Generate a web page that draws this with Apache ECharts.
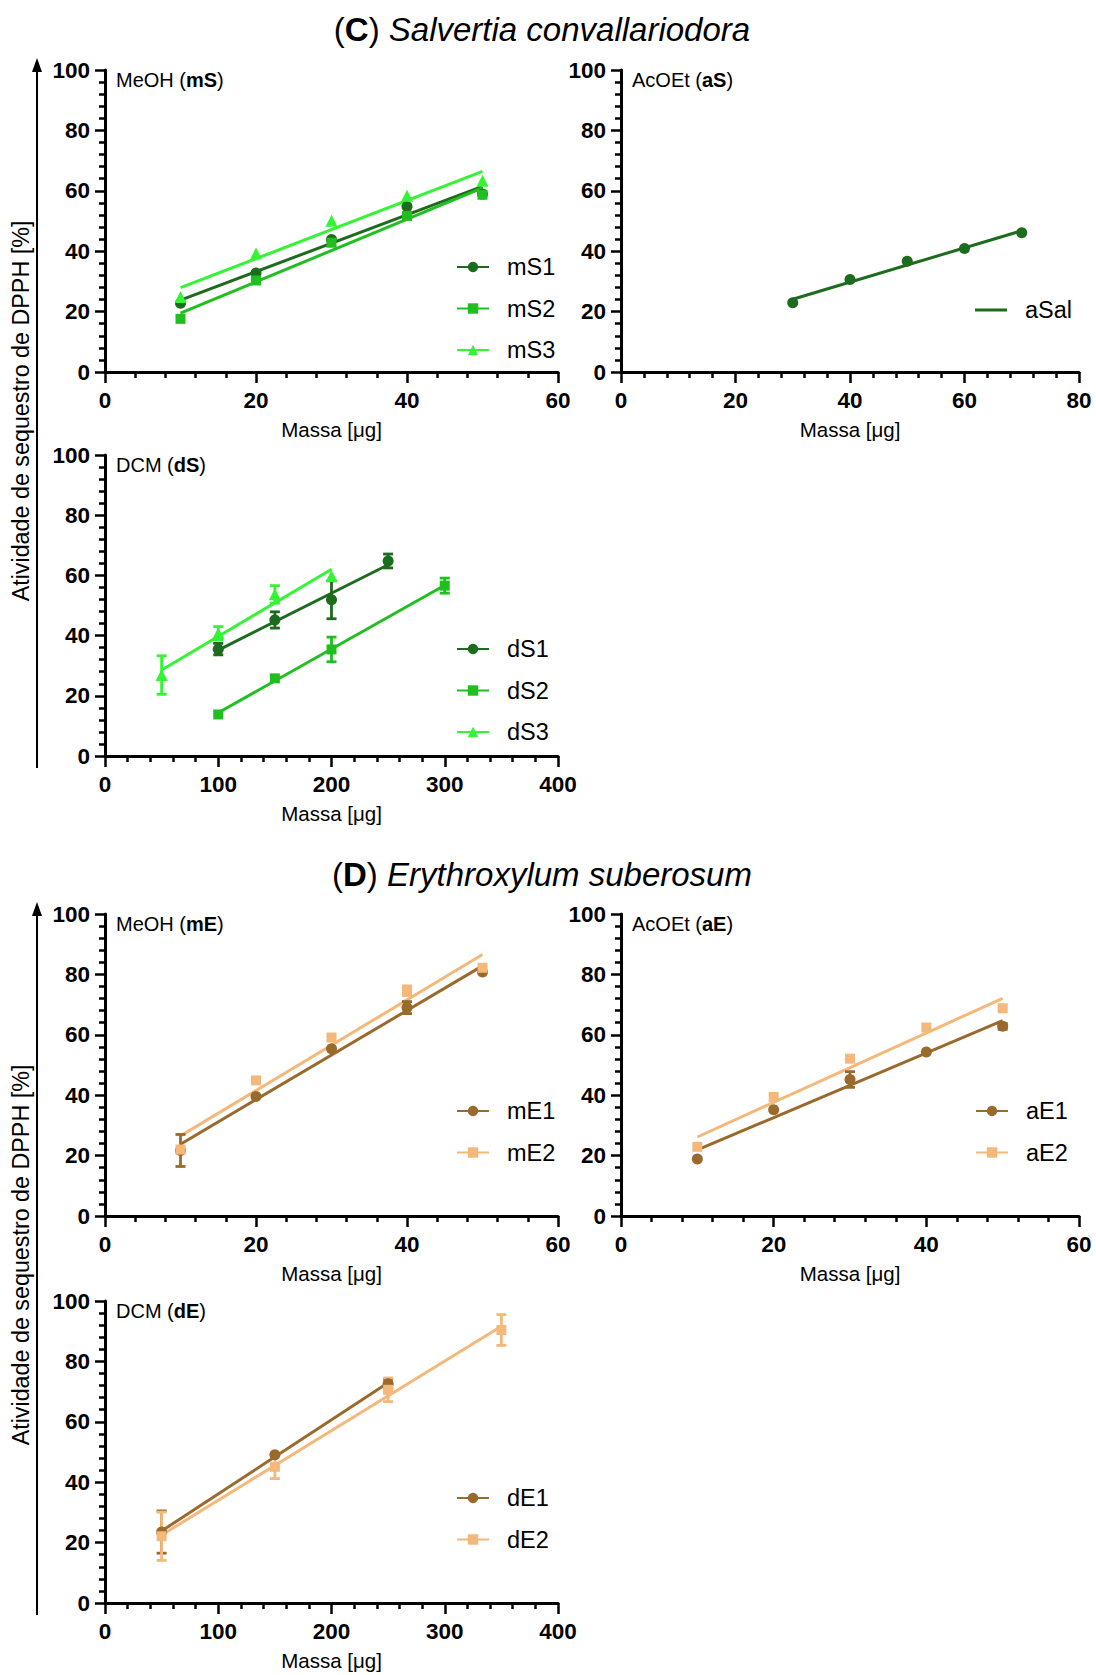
<!DOCTYPE html>
<html>
<head>
<meta charset="utf-8">
<title>Atividade de sequestro de DPPH</title>
<script src="https://cdn.jsdelivr.net/npm/echarts/dist/echarts.min.js"></script>
<style>
  html, body { margin: 0; padding: 0; background: #ffffff; }
  #chart { width: 1096px; height: 1675px; }
</style>
</head>
<body>
<div id="chart"></div>
<script>
// ---------------- data (mass in µg, activity in %) ----------------
// (C) Salvertia convallariodora
const massMeOH_S = [10, 20, 30, 40, 50];
const mS1 = [22.8, 32.8, 43.9, 54.8, 58.9];
const mS2 = [17.6, 30.3, 42.8, 51.7, 58.7];
const mS3 = [24.8, 39.2, 50.1, 58.4, 63.3];

const massAcOEt_S = [30, 40, 50, 60, 70];
const aSal = [22.9, 30.6, 36.7, 40.9, 46.1];

const massDS1 = [100, 150, 200, 250];
const dS1 = [35.5, 45.2, 51.9, 64.8];
const dS1Err = [1.9, 2.7, 6.3, 2.3];
const massDS2 = [100, 150, 200, 300];
const dS2 = [13.8, 25.8, 35.4, 56.6];
const dS2Err = [0, 0, 4.1, 2.5];
const massDS3 = [50, 100, 150, 200];
const dS3 = [26.9, 40.8, 53.7, 59.8];
const dS3Err = [6.4, 2.2, 2.9, 0];

// (D) Erythroxylum suberosum
const massMeOH_E = [10, 20, 30, 40, 50];
const mE1 = [21.7, 39.6, 55.4, 69.0, 80.8];
const mE1Err = [5.3, 0, 0, 2.0, 0];
const mE2 = [22.0, 44.9, 59.1, 74.6, 82.2];
const mE2Err = [0, 0, 0, 1.6, 0];

const massAcOEt_E = [10, 20, 30, 40, 50];
const aE1 = [18.9, 35.2, 45.2, 54.3, 62.8];
const aE1Err = [0, 0, 2.6, 0, 1.0];
const aE2 = [22.9, 39.4, 52.1, 62.4, 68.8];
const aE2Err = [0, 0, 0, 0, 0];

const massDE1 = [50, 150, 250];
const dE1 = [23.5, 49.1, 72.6];
const dE1Err = [7.0, 0, 1.5];
const massDE2 = [50, 150, 250, 350];
const dE2 = [22.1, 45.1, 70.6, 90.4];
const dE2Err = [8.0, 3.9, 3.9, 5.1];

// axis scales
const yMin = 0, yMax = 100, yStep = 20;
const xMaxMeOH = 60, xStepMeOH = 20;
const xMaxAcOEtS = 80, xStepAcOEtS = 20;
const xMaxAcOEtE = 60, xStepAcOEtE = 20;
const xMaxDCM = 400, xStepDCM = 100;

// ---------------- styling ----------------
const FONT = "'Liberation Sans', Arial, Helvetica, sans-serif";
const DARK_GREEN = '#1d6b1d';
const MID_GREEN = '#1fbf1f';
const LIGHT_GREEN = '#33f533';
const BROWN = '#9a6a2c';
const PEACH = '#f4b87a';

const SYMBOL_SIZE = { circle: 11, rect: 10, triangle: 12 };

// least-squares straight line over the measured mass range
function linearFit(xs, ys) {
  const n = xs.length;
  const mx = xs.reduce((a, b) => a + b, 0) / n;
  const my = ys.reduce((a, b) => a + b, 0) / n;
  let sxy = 0, sxx = 0;
  for (let i = 0; i < n; i++) {
    sxy += (xs[i] - mx) * (ys[i] - my);
    sxx += (xs[i] - mx) * (xs[i] - mx);
  }
  const slope = sxy / sxx;
  const icpt = my - slope * mx;
  const x0 = Math.min(...xs), x1 = Math.max(...xs);
  return [[x0, icpt + slope * x0], [x1, icpt + slope * x1]];
}

// vertical error bar with caps
function renderErrorBar(params, api) {
  const x = api.value(0), y = api.value(1), e = api.value(2);
  if (!e) return null;
  const hi = api.coord([x, y + e]);
  const lo = api.coord([x, y - e]);
  const half = 5;
  const style = { stroke: api.visual('color'), lineWidth: 2.8 };
  return {
    type: 'group',
    children: [
      { type: 'line', shape: { x1: hi[0], y1: hi[1], x2: lo[0], y2: lo[1] }, style: style },
      { type: 'line', shape: { x1: hi[0] - half, y1: hi[1], x2: hi[0] + half, y2: hi[1] }, style: style },
      { type: 'line', shape: { x1: lo[0] - half, y1: lo[1], x2: lo[0] + half, y2: lo[1] }, style: style }
    ]
  };
}

// ---------------- panel layout ----------------
const LEFT_COL = 105, RIGHT_COL = 621;
const panels = [
  { grid: { left: LEFT_COL, top: 70, width: 453, height: 302 }, xMax: xMaxMeOH, xStep: xStepMeOH,
    tag: ['MeOH (', 'mS', ')'], legend: { left: 456, top: 255 },
    curves: [
      { name: 'mS1', x: massMeOH_S, y: mS1, color: DARK_GREEN, symbol: 'circle' },
      { name: 'mS2', x: massMeOH_S, y: mS2, color: MID_GREEN, symbol: 'rect' },
      { name: 'mS3', x: massMeOH_S, y: mS3, color: LIGHT_GREEN, symbol: 'triangle' }
    ] },
  { grid: { left: RIGHT_COL, top: 70, width: 458, height: 302 }, xMax: xMaxAcOEtS, xStep: xStepAcOEtS,
    tag: ['AcOEt (', 'aS', ')'], legend: { left: 975, top: 298 }, lineOnlyLegend: true,
    curves: [
      { name: 'aSal', x: massAcOEt_S, y: aSal, color: DARK_GREEN, symbol: 'circle' }
    ] },
  { grid: { left: LEFT_COL, top: 455, width: 453, height: 301 }, xMax: xMaxDCM, xStep: xStepDCM,
    tag: ['DCM (', 'dS', ')'], legend: { left: 456, top: 637 },
    curves: [
      { name: 'dS1', x: massDS1, y: dS1, err: dS1Err, color: DARK_GREEN, symbol: 'circle' },
      { name: 'dS2', x: massDS2, y: dS2, err: dS2Err, color: MID_GREEN, symbol: 'rect' },
      { name: 'dS3', x: massDS3, y: dS3, err: dS3Err, color: LIGHT_GREEN, symbol: 'triangle' }
    ] },
  { grid: { left: LEFT_COL, top: 914, width: 453, height: 302 }, xMax: xMaxMeOH, xStep: xStepMeOH,
    tag: ['MeOH (', 'mE', ')'], legend: { left: 456, top: 1099 },
    curves: [
      { name: 'mE1', x: massMeOH_E, y: mE1, err: mE1Err, color: BROWN, symbol: 'circle' },
      { name: 'mE2', x: massMeOH_E, y: mE2, err: mE2Err, color: PEACH, symbol: 'rect' }
    ] },
  { grid: { left: RIGHT_COL, top: 914, width: 458, height: 302 }, xMax: xMaxAcOEtE, xStep: xStepAcOEtE,
    tag: ['AcOEt (', 'aE', ')'], legend: { left: 975, top: 1099 },
    curves: [
      { name: 'aE1', x: massAcOEt_E, y: aE1, err: aE1Err, color: BROWN, symbol: 'circle' },
      { name: 'aE2', x: massAcOEt_E, y: aE2, err: aE2Err, color: PEACH, symbol: 'rect' }
    ] },
  { grid: { left: LEFT_COL, top: 1301, width: 453, height: 302 }, xMax: xMaxDCM, xStep: xStepDCM,
    tag: ['DCM (', 'dE', ')'], legend: { left: 456, top: 1486 },
    curves: [
      { name: 'dE1', x: massDE1, y: dE1, err: dE1Err, color: BROWN, symbol: 'circle' },
      { name: 'dE2', x: massDE2, y: dE2, err: dE2Err, color: PEACH, symbol: 'rect' }
    ] }
];

// ---------------- build option ----------------
const grids = [], xAxes = [], yAxes = [], series = [], legends = [], graphics = [];

const axisLineStyle = { color: '#000', width: 3 };
const tickStyle = { color: '#000', width: 2.5 };
const tickLabel = { fontFamily: FONT, fontSize: 22.5, fontWeight: 'bold', color: '#000' };

panels.forEach((p, gi) => {
  grids.push(Object.assign({ containLabel: false, outerBoundsMode: 'none' }, p.grid));

  xAxes.push({
    gridIndex: gi, type: 'value', min: 0, max: p.xMax, interval: p.xStep,
    axisLine: { show: true, onZero: false, lineStyle: axisLineStyle },
    axisTick: { show: true, length: 11, lineStyle: tickStyle },
    minorTick: { show: true, splitNumber: 5, length: 6, lineStyle: tickStyle },
    splitLine: { show: false }, minorSplitLine: { show: false },
    axisLabel: Object.assign({ show: true, showMinLabel: true, showMaxLabel: true, margin: 17 }, tickLabel),
    name: 'Massa [μg]', nameLocation: 'middle', nameGap: 47,
    nameTextStyle: { fontFamily: FONT, fontSize: 20.5, color: '#000' }
  });

  yAxes.push({
    gridIndex: gi, type: 'value', min: yMin, max: yMax, interval: yStep,
    axisLine: { show: true, onZero: false, lineStyle: axisLineStyle },
    axisTick: { show: true, length: 10, lineStyle: tickStyle },
    minorTick: { show: true, splitNumber: 5, length: 6, lineStyle: tickStyle },
    splitLine: { show: false }, minorSplitLine: { show: false },
    axisLabel: Object.assign({ show: true, showMinLabel: true, showMaxLabel: true, margin: 15 }, tickLabel)
  });

  p.curves.forEach((c) => {
    // fitted line (also carries the legend entry)
    series.push({
      name: c.name, type: 'line', xAxisIndex: gi, yAxisIndex: gi,
      data: linearFit(c.x, c.y),
      symbol: c.symbol, showSymbol: false, symbolSize: SYMBOL_SIZE[c.symbol],
      lineStyle: { color: c.color, width: 3 },
      itemStyle: { color: c.color },
      silent: true, z: 2, animation: false
    });
    // error bars
    if (c.err) {
      series.push({
        name: c.name + ' dp', type: 'custom', xAxisIndex: gi, yAxisIndex: gi,
        coordinateSystem: 'cartesian2d',
        data: c.x.map((v, i) => [v, c.y[i], c.err[i]]),
        encode: { x: 0, y: 1 },
        renderItem: renderErrorBar,
        itemStyle: { color: c.color },
        silent: true, z: 3, animation: false
      });
    }
    // measured points
    series.push({
      name: c.name + ' pts', type: 'scatter', xAxisIndex: gi, yAxisIndex: gi,
      data: c.x.map((v, i) => [v, c.y[i]]),
      symbol: c.symbol, symbolSize: SYMBOL_SIZE[c.symbol],
      itemStyle: { color: c.color, opacity: 1 },
      silent: true, z: 4, animation: false
    });
  });

  legends.push({
    orient: 'vertical', left: p.legend.left, top: p.legend.top, padding: 0,
    itemWidth: 32, itemHeight: p.lineOnlyLegend ? 3 : 13, itemGap: 17.5,
    selectedMode: false,
    textStyle: { fontFamily: FONT, fontSize: 23.5, color: '#000', lineHeight: 23, padding: [0, 0, 0, 13] },
    data: p.curves.map((c) => p.lineOnlyLegend ? { name: c.name, icon: 'rect' } : c.name)
  });

  // panel caption in the upper-left corner
  graphics.push({
    type: 'text', x: p.grid.left + 11, y: p.grid.top + 10, z: 10,
    style: {
      text: '{n|' + p.tag[0] + '}{b|' + p.tag[1] + '}{n|' + p.tag[2] + '}',
      align: 'left', textAlign: 'left', verticalAlign: 'middle', textVerticalAlign: 'middle',
      rich: {
        n: { fontFamily: FONT, fontSize: 20, fill: '#000', color: '#000' },
        b: { fontFamily: FONT, fontSize: 20, fontWeight: 'bold', fill: '#000', color: '#000' }
      }
    }
  });
});

// section titles
function sectionTitle(letter, species, y) {
  return {
    type: 'text', x: 542, y: y, z: 10,
    style: {
      text: '{p|(}{b|' + letter + '}{p|) }{i|' + species + '}',
      align: 'center', textAlign: 'center', verticalAlign: 'middle', textVerticalAlign: 'middle',
      rich: {
        p: { fontFamily: FONT, fontSize: 33, fill: '#000', color: '#000' },
        b: { fontFamily: FONT, fontSize: 33, fontWeight: 'bold', fill: '#000', color: '#000' },
        i: { fontFamily: FONT, fontSize: 33, fontStyle: 'italic', fill: '#000', color: '#000' }
      }
    }
  };
}
graphics.push(sectionTitle('C', 'Salvertia convallariodora', 29));
graphics.push(sectionTitle('D', 'Erythroxylum suberosum', 874));

// shared vertical axis title with arrow, one per section
function sharedYAxis(topY, bottomY, labelY) {
  return [
    { type: 'line', z: 10, shape: { x1: 37, y1: bottomY, x2: 37, y2: topY + 10 },
      style: { stroke: '#000', lineWidth: 2 } },
    { type: 'polygon', z: 10, shape: { points: [[37, topY], [32, topY + 14], [42, topY + 14]] },
      style: { fill: '#000' } },
    { type: 'text', x: 21, y: labelY, rotation: Math.PI / 2, z: 10,
      style: { text: 'Atividade de sequestro de DPPH [%]', fontFamily: FONT, fontSize: 23.3,
        fill: '#000', align: 'center', textAlign: 'center', verticalAlign: 'middle', textVerticalAlign: 'middle' } }
  ];
}
graphics.push(...sharedYAxis(58, 768, 411));
graphics.push(...sharedYAxis(902, 1615, 1255));

const option = {
  animation: false,
  backgroundColor: '#ffffff',
  textStyle: { fontFamily: FONT },
  grid: grids,
  xAxis: xAxes,
  yAxis: yAxes,
  legend: legends,
  series: series,
  graphic: { elements: graphics }
};

const chart = echarts.init(document.getElementById('chart'), null, { renderer: 'svg', width: 1096, height: 1675 });
chart.setOption(option);
</script>
</body>
</html>
